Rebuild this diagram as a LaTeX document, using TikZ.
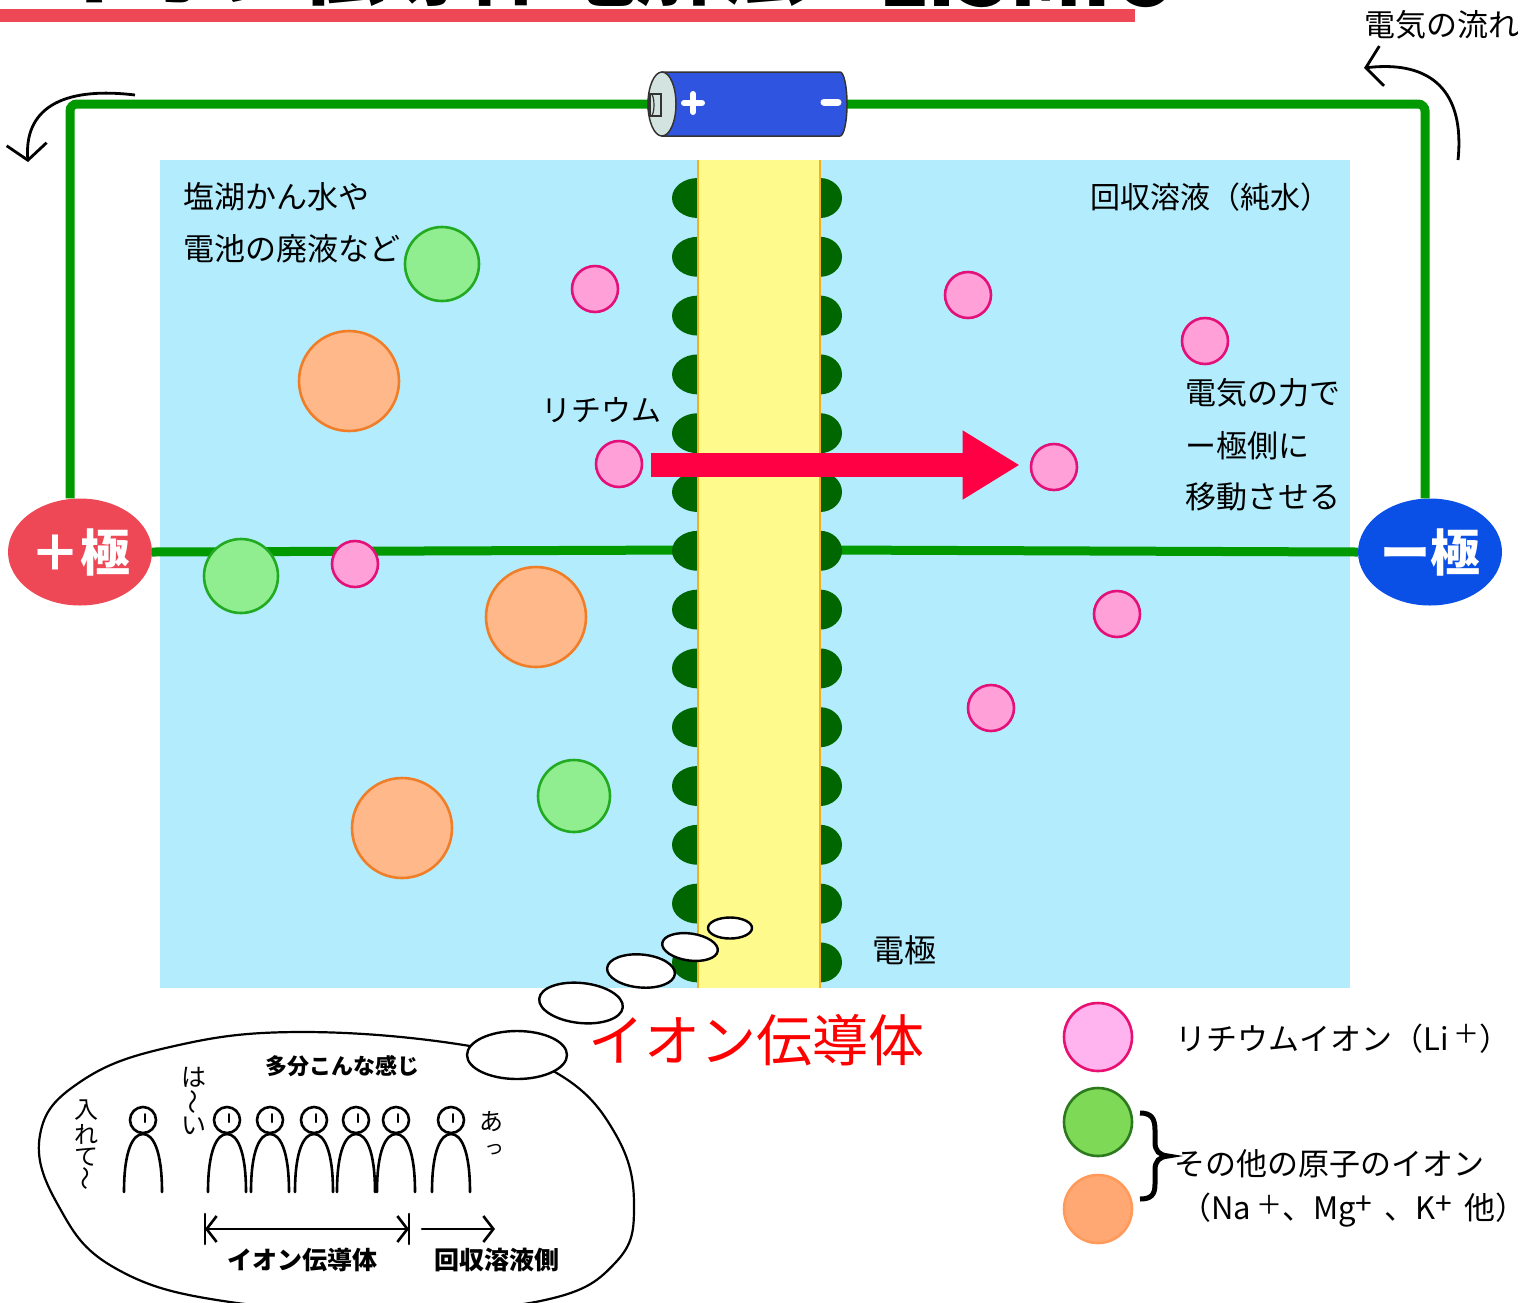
\documentclass[tikz,border=0pt]{standalone}
\usepackage{fontspec}
\setmainfont{Noto Sans CJK JP}
\usetikzlibrary{arrows.meta,calc,shapes.geometric}
\newcommand\fsz[1]{\fontsize{#1}{#1}\selectfont}

\definecolor{water}{HTML}{B3EDFD}
\definecolor{band}{HTML}{FFFA8C}
\definecolor{bandedge}{HTML}{F2B21E}
\definecolor{bump}{HTML}{006600}
\definecolor{wirec}{HTML}{009A00}
\definecolor{plusc}{HTML}{EE4856}
\definecolor{minusc}{HTML}{0A50E6}
\definecolor{battc}{HTML}{2F55E0}
\definecolor{capc}{HTML}{D3E3E0}
\definecolor{flowred}{HTML}{FF0044}
\definecolor{pinkf}{HTML}{FFA0D8}
\definecolor{pinkd}{HTML}{E4107A}
\definecolor{greenf}{HTML}{90EE90}
\definecolor{greend}{HTML}{22AA22}
\definecolor{orangef}{HTML}{FFB88A}
\definecolor{oranged}{HTML}{F07E28}
\definecolor{lgpinkf}{HTML}{FFB4F0}
\definecolor{lgpinkd}{HTML}{E81070}
\definecolor{lggreenf}{HTML}{7ED957}
\definecolor{lggreend}{HTML}{2D7A1E}
\definecolor{lgorangef}{HTML}{FFA874}
\definecolor{lgoranged}{HTML}{FF9A5A}

\tikzset{
  ion/.style={circle,inner sep=0pt,line width=2.6pt},
  li/.style={ion,fill=pinkf,draw=pinkd,minimum size=46pt},
  gr/.style={ion,fill=greenf,draw=greend},
  og/.style={ion,fill=orangef,draw=oranged,minimum size=100pt},
  wire/.style={draw=wirec,line width=9pt,rounded corners=7pt},
  pole/.style={ellipse,minimum width=144pt,minimum height=107pt,inner sep=0pt,text=white,font=\fsz{50}\bfseries},
  lbl/.style={inner sep=0pt,font=\fsz{31}},
  flow/.style={line width=2.8pt,-{Straight Barb[length=16pt,width=40pt]}},
  puff/.style={ellipse,draw=black,fill=white,line width=2.4pt,inner sep=0pt},
  sketch/.style={line width=2.6pt,line cap=round},
  vtext/.style={inner sep=0pt},
  handlbl/.style={inner sep=0pt,font=\fsz{25}\bfseries}
}

\begin{document}
\begin{tikzpicture}[x=1pt,y=-1pt]
\useasboundingbox (0,0) rectangle (1536,1302);

% title strip at the top edge
\begin{scope}
  \clip (0,0) rectangle (1536,1302);
  \node[anchor=base west,inner sep=0pt,font=\fsz{84}\bfseries] (title) at (48,-2) {イオン伝導体電解法};
  \node[anchor=base west,inner sep=0pt,font=\fsz{84}\bfseries] (title2) at (878,6) {LiSMIC};
  \fill[plusc] (0,9) rectangle (1135,22);
\end{scope}

% water tank
\fill[water] (160,160) rectangle (1350,988);

% electrodes
\node[pole,fill=plusc] (plus) at (80,552) {＋極};
\node[pole,fill=minusc] (minus) at (1430,552) {ー極};

% battery
\node[minimum width=198pt,minimum height=64pt,inner sep=0pt] (batt) at (747,104) {};
\coordinate (memL) at (690,550);
\coordinate (memR) at (828,550);
\draw[wire] ([xshift=-10pt]plus.north) |- (batt.west);
\draw[wire] (batt.east) -| ([xshift=-5pt]minus.north);
\filldraw[fill=battc,draw=black!80,line width=1.5pt]
  (662,72) -- (840,72) arc[start angle=-90,end angle=90,x radius=7,y radius=32] -- (662,136) -- cycle;
\filldraw[fill=capc,draw=black!80,line width=1.5pt] (662,104) ellipse[x radius=14,y radius=32];
\filldraw[fill=capc,draw=black!80,line width=1.2pt] (650,94) rectangle (661,116);
\draw[black!80,line width=1.2pt] (651,105) ellipse[x radius=3,y radius=11];
\draw[white,line width=6pt,line cap=round] (684,103) -- (702,103) (693,94) -- (693,112);
\draw[white,line width=7pt,line cap=round] (824,102) -- (838,102);

% middle wires
\draw[wire,rounded corners=0pt] (plus.east) -- (memL);
\draw[wire,rounded corners=0pt] (memR) -- (minus.west);

% ion conductor with electrode bumps
\foreach \i in {0,...,13}{
  \fill[bump] (698,198+58.8*\i) ellipse[x radius=26,y radius=20];
  \fill[bump] (820,198+58.8*\i) ellipse[x radius=22,y radius=20];
}
\fill[band] (698,160) rectangle (820,988);
\draw[bandedge,line width=1.6pt] (698,160) -- (698,988) (820,160) -- (820,988);

% ions in the feed solution and in the recovery solution
\node[li] (p1) at (595,289) {};
\node[li] (p2) at (968,295) {};
\node[li] (p3) at (1205,341) {};
\node[li] (p4) at (619,464) {};
\node[li] (p5) at (1054,467) {};
\node[li] (p6) at (355,564) {};
\node[li] (p7) at (1117,614) {};
\node[li] (p8) at (991,708) {};
\node[gr,minimum size=74pt] (g1) at (442,264) {};
\node[gr,minimum size=74pt] (g2) at (241,576) {};
\node[gr,minimum size=72pt] (g3) at (574,796) {};
\node[og] (o1) at (349,381) {};
\node[og] (o2) at (536,617) {};
\node[og] (o3) at (402,828) {};

% lithium transport arrow
\draw[flowred,line width=24pt,-{Triangle[length=57pt,width=65pt]}]
  ($(p4.east)+(8,1)$) -- ($(p4.east -| p5.west)+(-10,1)$);

% labels in the tank
\node[lbl,anchor=west] (feed1) at (183,197) {塩湖かん水や};
\node[lbl,anchor=west] (feed2) at (183,249) {電池の廃液など};
\node[lbl,anchor=west,font=\fsz{30}] (recv) at (1090,197) {回収溶液（純水）};
\node[lbl,font=\fsz{30}] (lith) at (601,410) {リチウム};
\node[lbl,anchor=west] (force1) at (1185,393) {電気の力で};
\node[lbl,anchor=west] (force2) at (1185,446) {ー極側に};
\node[lbl,anchor=west] (force3) at (1185,497) {移動させる};
\node[lbl,anchor=west,font=\fsz{32}] (elec) at (872,950) {電極};

% current direction
\node[lbl,font=\fsz{31}] (flowtxt) at (1442,25) {電気の流れ};
\coordinate (fl0) at (135,95);
\coordinate (fl1) at (28,162);
\coordinate (fr0) at (1458,160);
\coordinate (fr1) at (1364,68);
\draw[flow] (fl0) .. controls (60,86) and (24,110) .. (fl1);
\draw[flow] (fr0) .. controls (1465,92) and (1432,60) .. (fr1);

% conductor caption
\node[lbl,anchor=west,text=red,font=\fsz{56}] (cond) at (588,1040) {イオン伝導体};

% thought bubble
\draw[line width=2.2pt,fill=white] plot[smooth cycle,tension=0.7] coordinates
  {(40,1135) (80,1082) (170,1047) (300,1032) (470,1046) (560,1075)
   (616,1135) (634,1205) (616,1262) (545,1300) (400,1310) (230,1302) (115,1268) (58,1205)};
\node[puff,minimum width=44pt,minimum height=21pt] (b1) at (730,928) {};
\node[puff,minimum width=56pt,minimum height=27pt,rotate=-8] (b2) at (690,947) {};
\node[puff,minimum width=68pt,minimum height=33pt,rotate=-5] (b3) at (641,971) {};
\node[puff,minimum width=84pt,minimum height=40pt,rotate=-6] (b4) at (581,1003) {};
\node[puff,minimum width=100pt,minimum height=48pt] (b5) at (517,1055) {};

\node[handlbl,font=\fsz{22}\bfseries] (maybe) at (342,1066) {多分こんな感じ};
\foreach \x in {143,227,270,314,356,396,451}{
  \draw[sketch] (\x,1120) circle[radius=13];
  \draw[sketch,line width=2pt] (\x+2,1114) -- (\x+2,1122);
  \draw[sketch] (\x-19,1192) .. controls (\x-19,1150) and (\x-10,1134) .. (\x,1134)
                .. controls (\x+10,1134) and (\x+19,1150) .. (\x+19,1192);
}
% hand-written remarks, stacked vertically
\node[vtext,font=\fsz{24}] (s1a) at (86,1110) {入};
\node[vtext,font=\fsz{24}] (s1b) at (86,1134) {れ};
\node[vtext,font=\fsz{24}] (s1c) at (86,1157) {て};
\node[vtext,font=\fsz{24},rotate=90] (s1d) at (88,1178) {～};
\node[vtext,font=\fsz{25}] (s2a) at (194,1077) {は};
\node[vtext,font=\fsz{25},rotate=90] (s2b) at (196,1102) {～};
\node[vtext,font=\fsz{25}] (s2c) at (194,1126) {い};
\node[vtext,font=\fsz{24}] (s3a) at (491,1122) {あ};
\node[vtext,font=\fsz{20}] (s3b) at (494,1150) {っ};

\coordinate (bL) at (205,1229);
\coordinate (bR) at (409,1229);
\coordinate (aS) at (422,1229);
\coordinate (aE) at (495,1229);
\draw[sketch,{Straight Barb[length=10pt,width=26pt]}-{Straight Barb[length=10pt,width=26pt]}] (bL) -- (bR);
\draw[sketch] ([yshift=-15pt]bL) -- ([yshift=15pt]bL);
\draw[sketch] ([yshift=-15pt]bR) -- ([yshift=15pt]bR);
\draw[sketch,-{Straight Barb[length=10pt,width=26pt]}] (aS) -- (aE);
\node[handlbl] (hc1) at (302,1260) {イオン伝導体};
\node[handlbl] (hc2) at (497,1260) {回収溶液側};

% legend
\node[ion,fill=lgpinkf,draw=lgpinkd,minimum size=68pt] (kLi) at (1098,1037) {};
\node[ion,fill=lggreenf,draw=lggreend,minimum size=68pt] (kG) at (1098,1122) {};
\node[ion,fill=lgorangef,draw=lgoranged,minimum size=68pt] (kO) at (1098,1209) {};
\node[lbl,anchor=west,font=\fsz{31}] (tLi) at (1175,1039)
  {リチウムイオン（Li\,\raisebox{7pt}{\fsz{26}＋}）};
\draw[line width=5pt]
  (1140,1113) .. controls (1151,1113) and (1155,1118) .. (1155,1130) -- (1155,1142)
  .. controls (1155,1151) and (1159,1155) .. (1168,1156)
  .. controls (1159,1157) and (1155,1161) .. (1155,1170) -- (1155,1184)
  .. controls (1155,1195) and (1151,1199) .. (1140,1199);
\node[lbl,anchor=west,font=\fsz{31}] (tOth) at (1174,1164) {その他の原子のイオン};
\node[lbl,anchor=west,font=\fsz{31}] (tEx) at (1180,1210)
  {（Na\,\raisebox{5pt}{\fsz{26}＋}、Mg\raisebox{5pt}{\fsz{30}+}\, 、K\raisebox{5pt}{\fsz{30}+}\, 他）};
\end{tikzpicture}
\end{document}
